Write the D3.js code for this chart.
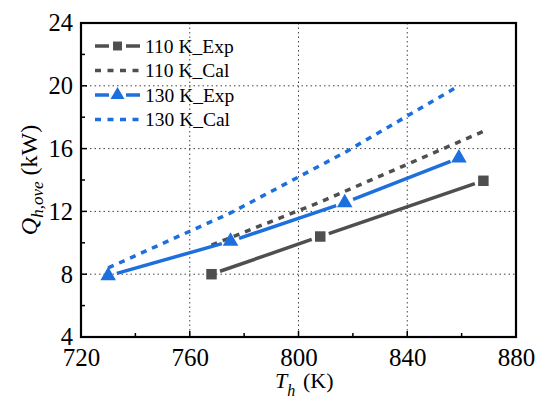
<!DOCTYPE html>
<html>
<head>
<meta charset="utf-8">
<script src="https://d3js.org/d3.v7.min.js"></script>
<style>
	body { margin: 0; background: #fff; }
	svg { display: block; }
	.grid line { stroke: #444; stroke-width: 1; stroke-dasharray: 1.5,3; }
</style>
</head>
<body>
<div id="chart"></div>
<script>
	// data
	var exp110T = [768, 808, 868];
	var exp110Q = [8.0, 10.4, 13.95];
	var cal110T = [768, 808, 868];
	var cal110Q = [9.85, 12.6, 17.1];
	var exp130T = [730, 775, 817, 859];
	var exp130Q = [7.9, 10.1, 12.55, 15.4];
	var cal130T = [730, 775, 817, 859];
	var cal130Q = [8.4, 11.9, 15.75, 20.0];
	var xTicks = [720, 760, 800, 840, 880];
	var yTicks = [4, 8, 12, 16, 20, 24];
	var legendNames = ["110 K_Exp", "110 K_Cal", "130 K_Exp", "130 K_Cal"];

	var gray = "#4f4f4f", blue = "#1c6fdc";

	var W = 540, H = 403;
	var margin = {top: 23, left: 81, right: 24, bottom: 66};
	var width = W - margin.left - margin.right;
	var height = H - margin.top - margin.bottom;

	var svg = d3.select("#chart").append("svg")
		.attr("width", W)
		.attr("height", H);

	var g = svg.append("g")
		.attr("transform", "translate(" + margin.left + "," + margin.top + ")");

	var x = d3.scaleLinear().domain([720, 880]).range([0, width]);
	var y = d3.scaleLinear().domain([4, 24]).range([height, 0]);

	// dotted grid
	var grid = g.append("g").attr("class", "grid");
	grid.selectAll(".gx").data(xTicks.slice(1, -1)).enter().append("line")
		.attr("x1", d => x(d)).attr("x2", d => x(d))
		.attr("y1", 0).attr("y2", height);
	grid.selectAll(".gy").data(yTicks.slice(1, -1)).enter().append("line")
		.attr("y1", d => y(d)).attr("y2", d => y(d))
		.attr("x1", 0).attr("x2", width);

	// axes, ticks inward
	var minorX = d3.range(740, 880, 40);
	var minorY = d3.range(6, 24, 4);

	var xAxis = g.append("g")
		.attr("transform", "translate(0," + height + ")")
		.call(d3.axisBottom(x).tickValues(xTicks).tickSize(0).tickPadding(0).tickFormat(d3.format("d")));
	xAxis.attr("font-family", null).attr("font-size", null);
	xAxis.select(".domain").remove();
	xAxis.selectAll("text")
		.attr("y", 29)
		.attr("dy", 0)
		.style("font-size", "25px");

	var yAxis = g.append("g")
		.call(d3.axisLeft(y).tickValues(yTicks).tickSize(0).tickPadding(8).tickFormat(d3.format("d")));
	yAxis.attr("font-family", null).attr("font-size", null);
	yAxis.select(".domain").remove();
	yAxis.selectAll("text")
		.attr("dy", "0.32em")
		.style("font-size", "24.5px");

	// tick marks drawn inside the frame
	var tk = g.append("g").attr("stroke", "#000").attr("stroke-width", 1.5);
	tk.selectAll(".tx").data(xTicks.concat(minorX)).enter().append("line")
		.attr("x1", d => x(d)).attr("x2", d => x(d))
		.attr("y1", height).attr("y2", d => height - (xTicks.indexOf(d) >= 0 ? 6 : 4));
	tk.selectAll(".ty").data(yTicks.concat(minorY)).enter().append("line")
		.attr("y1", d => y(d)).attr("y2", d => y(d))
		.attr("x1", 0).attr("x2", d => (yTicks.indexOf(d) >= 0 ? 6 : 4));

	// frame
	g.append("rect")
		.attr("width", width).attr("height", height)
		.attr("fill", "none").attr("stroke", "#000").attr("stroke-width", 2.2);

	var line = d3.line().x(d => x(d[0])).y(d => y(d[1]));

	function drawCal(T, Q, color) {
		g.append("path")
			.datum(d3.zip(T, Q))
			.attr("d", line)
			.attr("fill", "none")
			.attr("stroke", color)
			.attr("stroke-width", 3.5)
			.attr("stroke-dasharray", "6,6");
	}

	// solid line with small gaps around the markers
	function drawExp(T, Q, color, shape) {
		var pts = d3.zip(T, Q).map(d => [x(d[0]), y(d[1])]);
		var gap = 9;
		for (var i = 0; i < pts.length - 1; i++) {
			var a = pts[i], b = pts[i + 1];
			var dx = b[0] - a[0], dy = b[1] - a[1];
			var len = Math.sqrt(dx * dx + dy * dy);
			g.append("line")
				.attr("x1", a[0] + dx / len * gap).attr("y1", a[1] + dy / len * gap)
				.attr("x2", b[0] - dx / len * gap).attr("y2", b[1] - dy / len * gap)
				.attr("stroke", color)
				.attr("stroke-width", 3.5);
		}
		g.selectAll(null).data(pts).enter().append("path")
			.attr("transform", d => "translate(" + d[0] + "," + d[1] + ")")
			.attr("d", d3.symbol().type(shape).size(shape === d3.symbolSquare ? 110 : 105))
			.attr("fill", color);
	}

	drawCal(cal110T, cal110Q, gray);
	drawCal(cal130T, cal130Q, blue);
	drawExp(exp110T, exp110Q, gray, d3.symbolSquare);
	drawExp(exp130T, exp130Q, blue, d3.symbolTriangle);

	// legend
	var legColors = [gray, gray, blue, blue];
	var legTypes = ["exp", "cal", "exp", "cal"];
	var legShapes = [d3.symbolSquare, null, d3.symbolTriangle, null];
	var leg = svg.append("g");
	legendNames.forEach(function (name, i) {
		var ly = 46 + i * 24.5;
		var row = leg.append("g").attr("transform", "translate(95," + ly + ")");
		if (legTypes[i] === "exp") {
			row.append("line").attr("x1", 0).attr("x2", 14).attr("stroke", legColors[i]).attr("stroke-width", 3.5);
			row.append("line").attr("x1", 31).attr("x2", 45).attr("stroke", legColors[i]).attr("stroke-width", 3.5);
			row.append("path")
				.attr("transform", "translate(22.5,0)")
				.attr("d", d3.symbol().type(legShapes[i]).size(legShapes[i] === d3.symbolSquare ? 80 : 85))
				.attr("fill", legColors[i]);
		} else {
			row.append("line").attr("x1", 0).attr("x2", 45)
				.attr("stroke", legColors[i]).attr("stroke-width", 3.5)
				.attr("stroke-dasharray", "6,6.5");
		}
		row.append("text")
			.attr("x", 50).attr("dy", "0.34em")
			.style("font-size", "19.5px")
			.text(name);
	});

	// axis titles
	var yt = svg.append("text")
		.attr("transform", "translate(37,180) rotate(-90)")
		.attr("text-anchor", "middle")
		.style("font-size", "24px");
	yt.append("tspan").style("font-style", "italic").text("Q");
	yt.append("tspan").style("font-style", "italic").style("font-size", "17px").attr("dy", 6).text("h,ove");
	yt.append("tspan").attr("dy", -6).text(" (kW)");

	var xt = svg.append("text")
		.attr("x", 275).attr("y", 388)
		.style("font-size", "22px");
	xt.append("tspan").style("font-style", "italic").text("T");
	xt.append("tspan").style("font-style", "italic").style("font-size", "16px").attr("dy", 8).text("h");
	xt.append("tspan").attr("dy", -8).attr("x", 303).text("(K)");

	// every label in Times-like serif
	svg.selectAll("text")
		.style("font-family", "'Liberation Serif', 'Times New Roman', serif")
		.attr("fill", "#000");
</script>
</body>
</html>
